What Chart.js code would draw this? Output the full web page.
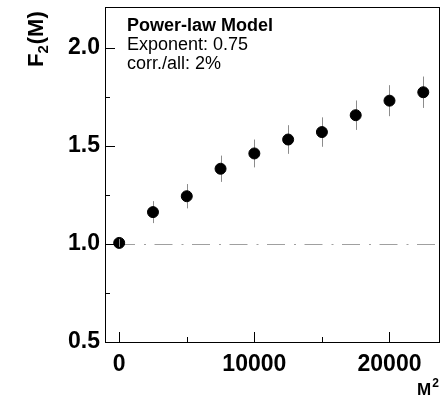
<!DOCTYPE html>
<html>
<head>
<meta charset="utf-8">
<script src="https://cdn.jsdelivr.net/npm/chart.js@4"></script>
<style>
html,body{margin:0;padding:0;background:#fff;}
#wrap{width:446px;height:401px;position:relative;}
</style>
</head>
<body>
<div id="wrap"><canvas id="c" width="446" height="401"></canvas></div>
<script>
// ---- data ----
const xValues = [0, 2500, 5000, 7500, 10000, 12500, 15000, 17500, 20000, 22500];
const yValues = [1.005, 1.162, 1.243, 1.383, 1.461, 1.532, 1.570, 1.656, 1.730, 1.773];
const yErrors = [0.010, 0.056, 0.062, 0.067, 0.071, 0.073, 0.075, 0.075, 0.079, 0.080];
const xTicks = [0, 10000, 20000];
const xMinorTicks = [5000, 15000];
const yTicks = [0.5, 1.0, 1.5, 2.0];
const yMinorTicks = [0.75, 1.25, 1.75];
const referenceLevel = 1.0;
const legendLines = ["Power-law Model", "Exponent: 0.75", "corr./all: 2%"];

const FONT = "'Liberation Sans', Arial, Helvetica, sans-serif";

const overlay = {
  id: 'overlay',
  beforeDatasetsDraw(chart) {
    const ctx = chart.ctx, a = chart.chartArea;
    const xs = chart.scales.x, ys = chart.scales.y;
    ctx.save();
    // reference dash-dot line
    ctx.strokeStyle = '#a0a0a0';
    ctx.lineWidth = 1;
    ctx.setLineDash([18, 9, 2, 8.5]);
    ctx.lineDashOffset = -12;
    const yr = Math.round(ys.getPixelForValue(referenceLevel)) + 0.5;
    ctx.beginPath(); ctx.moveTo(a.left, yr); ctx.lineTo(a.right, yr); ctx.stroke();
    ctx.setLineDash([]);
    // error bars
    ctx.strokeStyle = '#8c8c8c';
    ctx.lineWidth = 1;
    for (let i = 0; i < xValues.length; i++) {
      const px = Math.round(xs.getPixelForValue(xValues[i])) + 0.5;
      const y1 = ys.getPixelForValue(yValues[i] + yErrors[i]);
      const y2 = ys.getPixelForValue(yValues[i] - yErrors[i]);
      ctx.beginPath(); ctx.moveTo(px, y1); ctx.lineTo(px, y2); ctx.stroke();
    }
    ctx.restore();
  },
  afterDatasetsDraw(chart) {
    const ctx = chart.ctx, a = chart.chartArea;
    const xs = chart.scales.x, ys = chart.scales.y;
    ctx.save();
    // small error bar crossing the first marker
    ctx.strokeStyle = '#8c8c8c';
    ctx.lineWidth = 1;
    {
      const px = Math.round(xs.getPixelForValue(xValues[0])) + 0.5;
      const py = ys.getPixelForValue(yValues[0]);
      ctx.beginPath(); ctx.moveTo(px, py - 4); ctx.lineTo(px, py + 4); ctx.stroke();
    }
    // frame
    ctx.strokeStyle = '#000';
    ctx.lineWidth = 1;
    ctx.strokeRect(Math.round(a.left) + 0.5, Math.round(a.top) + 0.5,
                   Math.round(a.right - a.left) - 1, Math.round(a.bottom - a.top) - 1);
    // inner ticks
    ctx.beginPath();
    yTicks.forEach(v => { const p = Math.round(ys.getPixelForValue(v)) + 0.5; ctx.moveTo(a.left, p); ctx.lineTo(a.left + 10, p); });
    yMinorTicks.forEach(v => { const p = Math.round(ys.getPixelForValue(v)) + 0.5; ctx.moveTo(a.left, p); ctx.lineTo(a.left + 5, p); });
    xTicks.forEach(v => { const p = Math.round(xs.getPixelForValue(v)) + 0.5; ctx.moveTo(p, a.bottom); ctx.lineTo(p, a.bottom - 10); });
    xMinorTicks.forEach(v => { const p = Math.round(xs.getPixelForValue(v)) + 0.5; ctx.moveTo(p, a.bottom); ctx.lineTo(p, a.bottom - 5); });
    ctx.stroke();
    // legend text
    ctx.fillStyle = '#000';
    ctx.textAlign = 'left';
    ctx.textBaseline = 'alphabetic';
    ctx.font = 'bold 18px ' + FONT;
    ctx.fillText(legendLines[0], a.left + 22, 31);
    ctx.font = '18px ' + FONT;
    ctx.fillText(legendLines[1], a.left + 22, 50);
    ctx.fillText(legendLines[2], a.left + 22, 69);
    // y axis title F2(M), rotated
    ctx.save();
    ctx.translate(43, 67);
    ctx.rotate(-Math.PI / 2);
    ctx.font = 'bold 22px ' + FONT;
    let x = 0;
    ctx.fillText('F', x, 0); x += ctx.measureText('F').width;
    ctx.font = 'bold 15px ' + FONT;
    ctx.fillText('2', x, 5); x += ctx.measureText('2').width;
    ctx.font = 'bold 22px ' + FONT;
    ctx.fillText('(M)', x + 1, 0);
    ctx.restore();
    // x axis title M^2
    ctx.font = 'bold 17px ' + FONT;
    ctx.fillText('M', 417, 395);
    const mw = ctx.measureText('M').width;
    ctx.font = 'bold 12px ' + FONT;
    ctx.fillText('2', 417 + mw + 1, 387);
    ctx.restore();
  }
};

new Chart(document.getElementById('c'), {
  type: 'scatter',
  data: {
    datasets: [{
      data: xValues.map((x, i) => ({ x: x, y: yValues[i] })),
      backgroundColor: '#000',
      borderColor: '#000',
      pointRadius: 5.5,
      pointHoverRadius: 5.5,
      showLine: false
    }]
  },
  options: {
    responsive: false,
    animation: false,
    events: [],
    layout: { padding: { left: 0, right: 6, top: 5, bottom: 0 } },
    plugins: { legend: { display: false }, tooltip: { enabled: false } },
    scales: {
      x: {
        type: 'linear',
        min: -1050,
        max: 23700,
        grid: { display: false, drawTicks: false },
        border: { display: false },
        afterBuildTicks: s => { s.ticks = xTicks.map(v => ({ value: v })); },
        afterFit: s => { s.height = 59; s.paddingLeft = 0; s.paddingRight = 0; },
        ticks: {
          padding: 9,
          color: '#000',
          maxRotation: 0,
          font: { family: FONT, size: 23, weight: 'bold' },
          callback: v => String(v)
        }
      },
      y: {
        type: 'linear',
        min: 0.5,
        max: 2.21,
        grid: { display: false, drawTicks: false },
        border: { display: false },
        afterBuildTicks: s => { s.ticks = yTicks.map(v => ({ value: v })); },
        afterFit: s => { s.width = 105; s.paddingTop = 0; s.paddingBottom = 0; },
        ticks: {
          padding: 5,
          color: '#000',
          font: { family: FONT, size: 23, weight: 'bold' },
          callback: v => Number(v).toFixed(1)
        }
      }
    }
  },
  plugins: [overlay]
});
</script>
</body>
</html>
